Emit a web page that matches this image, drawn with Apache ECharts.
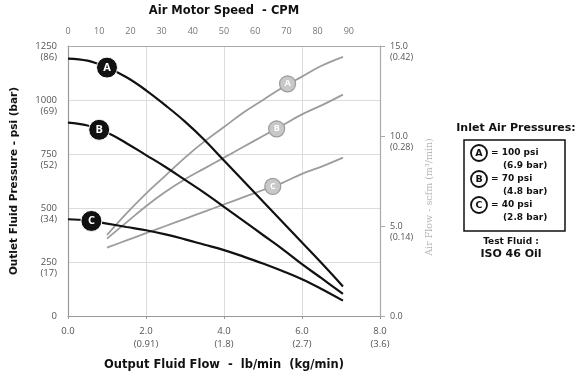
<!DOCTYPE html>
<html><head><meta charset="utf-8">
<script src="https://cdn.jsdelivr.net/npm/echarts@6/dist/echarts.min.js"></script>
<style>html,body{margin:0;padding:0;background:#fff}#c{width:575px;height:376px}</style>
</head><body><div id="c"></div>
<script>
// Output fluid flow (lb/min) sample points for the pressure curves
const flow = [0, 0.5, 1.0, 1.5, 2.0, 2.5, 3.0, 3.5, 4.0, 4.5, 5.0, 5.5, 6.0, 6.5, 7.05];
// Outlet fluid pressure (psi) at 100 / 70 / 40 psi inlet air
const pressureA = [1192, 1182, 1150, 1105, 1045, 975, 900, 815, 720, 625, 530, 435, 340, 245, 137];
const pressureB = [895, 882, 850, 800, 745, 690, 630, 570, 505, 440, 375, 310, 240, 175, 102];
const pressureC = [448, 443, 428, 412, 397, 378, 355, 330, 305, 275, 243, 208, 170, 125, 71];
// Air consumption (scfm) against output flow
const airFlowX = [1.0, 1.5, 2.0, 2.5, 3.0, 3.5, 4.0, 4.5, 5.0, 5.5, 6.0, 6.5, 7.05];
const airA = [4.5, 5.7, 6.8, 7.8, 8.8, 9.7, 10.5, 11.3, 12.0, 12.7, 13.3, 13.9, 14.4];
const airB = [4.3, 5.2, 6.1, 6.9, 7.6, 8.2, 8.8, 9.4, 10.0, 10.6, 11.2, 11.7, 12.3];
const airC = [3.8, 4.2, 4.6, 5.0, 5.4, 5.8, 6.2, 6.6, 7.0, 7.4, 7.9, 8.3, 8.8];

// Letter badges sitting on the curves: [flow, value]
const pressureBadges = {A: [1.0, 1150], B: [0.8, 862], C: [0.6, 440]};
const airBadges = {A: [5.63, 12.9], B: [5.35, 10.4], C: [5.25, 7.2]};

// Tick labels
const flowTicks = ['0.0', '2.0\n(0.91)', '4.0\n(1.8)', '6.0\n(2.7)', '8.0\n(3.6)'];
const pressureTicks = ['0', '\n250\n(17)', '\n500\n(34)', '\n750\n(52)', '\n1000\n(69)', '\n1250\n(86)'];
const airTicks = ['0.0', '\n5.0\n(0.14)', '\n10.0\n(0.28)', '\n15.0\n(0.42)'];
const speedTicks = ['0', '10', '20', '30', '40', '50', '60', '70', '80', '90', ''];

// Legend entries
const legendItems = [
  {letter: 'A', psi: '= 100 psi', bar: '(6.9 bar)'},
  {letter: 'B', psi: '= 70 psi', bar: '(4.8 bar)'},
  {letter: 'C', psi: '= 40 psi', bar: '(2.8 bar)'}
];

const FONT = 'Open Sans';
const BOLD = '"DejaVu Sans"';
const chart = echarts.init(document.getElementById('c'));

function pairs(xs, ys) { return xs.map((x, i) => [x, ys[i]]); }

function pressureSeries(name, ys) {
  return {
    type: 'line', name, xAxisIndex: 0, yAxisIndex: 0, z: 5,
    data: pairs(flow, ys), smooth: 0.4, showSymbol: false,
    lineStyle: {color: '#111', width: 2.2}
  };
}
function airSeries(name, ys) {
  return {
    type: 'line', name, xAxisIndex: 0, yAxisIndex: 1, z: 3,
    data: pairs(airFlowX, ys), smooth: 0.4, showSymbol: false,
    lineStyle: {color: '#9c9c9c', width: 1.8}
  };
}
function badgeSeries(name, pt, yAxisIndex, dark) {
  return {
    type: 'scatter', xAxisIndex: 0, yAxisIndex, z: dark ? 10 : 4,
    data: [pt], symbol: 'circle', symbolSize: dark ? 21 : 16,
    itemStyle: dark ? {color: '#111', borderColor: '#fff', borderWidth: 1, opacity: 1}
                    : {color: '#c8c8c8', borderColor: '#9c9c9c', borderWidth: 1.2, opacity: 1},
    label: {show: true, position: 'inside', formatter: name, color: '#fff',
            fontFamily: FONT, fontWeight: 'bold', fontSize: dark ? 11 : 9}
  };
}

const legendGraphics = [];
legendItems.forEach((it, k) => {
  const y = 153 + k * 26;
  legendGraphics.push(
    {type: 'circle', shape: {cx: 479, cy: y, r: 8}, style: {fill: '#fff', stroke: '#111', lineWidth: 1.8}},
    {type: 'text', x: 479, y: y + 0.5, style: {text: it.letter, align: 'center', verticalAlign: 'middle', font: 'bold 9.5px ' + BOLD, fill: '#111'}},
    {type: 'text', x: 491, y: y, style: {text: it.psi, verticalAlign: 'middle', font: 'bold 9px ' + BOLD, fill: '#111'}},
    {type: 'text', x: 503, y: y + 13, style: {text: it.bar, verticalAlign: 'middle', font: 'bold 9px ' + BOLD, fill: '#111'}}
  );
});

chart.setOption({
  animation: false,
  grid: {left: 68, right: 195, top: 41, bottom: 53},
  xAxis: [
    {
      type: 'value', position: 'bottom', min: 0, max: 8, interval: 2,
      name: 'Output Fluid Flow  -  lb/min  (kg/min)', nameLocation: 'middle', nameGap: 43,
      nameTextStyle: {fontFamily: BOLD, fontWeight: 'bold', fontSize: 11.5, color: '#111'},
      axisLine: {show: true, onZero: false, lineStyle: {color: '#999', width: 1.2}},
      axisTick: {show: true, length: 3, lineStyle: {color: '#999'}},
      axisLabel: {formatter: v => flowTicks[Math.round(v / 2)], fontFamily: FONT, fontSize: 9.5, color: '#555', lineHeight: 13, margin: 9},
      splitLine: {show: true, lineStyle: {color: '#dcdcdc', width: 1}}
    },
    {
      type: 'value', position: 'top', min: 0, max: 100, interval: 10,
      name: 'Air Motor Speed  - CPM', nameLocation: 'middle', nameGap: 29,
      nameTextStyle: {fontFamily: BOLD, fontWeight: 'bold', fontSize: 11.5, color: '#111'},
      axisLine: {show: true, onZero: false, lineStyle: {color: '#aaa', width: 1.2}},
      axisTick: {show: false},
      axisLabel: {formatter: v => speedTicks[Math.round(v / 10)], fontFamily: FONT, fontSize: 9, color: '#777', margin: 10},
      splitLine: {show: false}
    }
  ],
  yAxis: [
    {
      type: 'value', position: 'left', min: 0, max: 1250, interval: 250,
      name: 'Outlet Fluid Pressure - psi (bar)', nameLocation: 'middle', nameGap: 48,
      nameTextStyle: {fontFamily: BOLD, fontWeight: 'bold', fontSize: 10.5, color: '#111'},
      axisLine: {show: true, onZero: false, lineStyle: {color: '#999', width: 1.2}},
      axisTick: {show: false},
      axisLabel: {formatter: v => pressureTicks[Math.round(v / 250)], fontFamily: FONT, fontSize: 9.5, color: '#555', lineHeight: 11, margin: 11},
      splitLine: {show: true, lineStyle: {color: '#dcdcdc', width: 1}}
    },
    {
      type: 'value', position: 'right', min: 0, max: 15, interval: 5,
      axisLine: {show: true, onZero: false, lineStyle: {color: '#aaa', width: 1.2}},
      axisTick: {show: true, length: 5, lineStyle: {color: '#aaa'}},
      axisLabel: {formatter: v => airTicks[Math.round(v / 5)], fontFamily: FONT, fontSize: 9, color: '#555', lineHeight: 11, margin: 10},
      splitLine: {show: false}
    }
  ],
  series: [
    airSeries('A', airA), airSeries('B', airB), airSeries('C', airC),
    pressureSeries('A', pressureA), pressureSeries('B', pressureB), pressureSeries('C', pressureC),
    ...['A', 'B', 'C'].map(k => badgeSeries(k, airBadges[k], 1, false)),
    ...['A', 'B', 'C'].map(k => badgeSeries(k, pressureBadges[k], 0, true))
  ],
  graphic: [
    {type: 'text', x: 430, y: 197, rotation: Math.PI / 2,
     style: {text: 'Air Flow - scfm (m³/min)', align: 'center', verticalAlign: 'middle', font: '9.5px "DejaVu Serif"', fill: '#b5b5b5'}},
    {type: 'text', x: 516, y: 128, style: {text: 'Inlet Air Pressures:', align: 'center', verticalAlign: 'middle', font: 'bold 11px ' + BOLD, fill: '#111'}},
    {type: 'rect', shape: {x: 464, y: 140, width: 101, height: 91}, style: {fill: 'none', stroke: '#111', lineWidth: 1.5}},
    ...legendGraphics,
    {type: 'text', x: 511, y: 242, style: {text: 'Test Fluid :', align: 'center', verticalAlign: 'middle', font: 'bold 9px ' + BOLD, fill: '#111'}},
    {type: 'text', x: 511, y: 254, style: {text: 'ISO 46 Oil', align: 'center', verticalAlign: 'middle', font: 'bold 11px ' + BOLD, fill: '#111'}}
  ]
});
</script></body></html>
